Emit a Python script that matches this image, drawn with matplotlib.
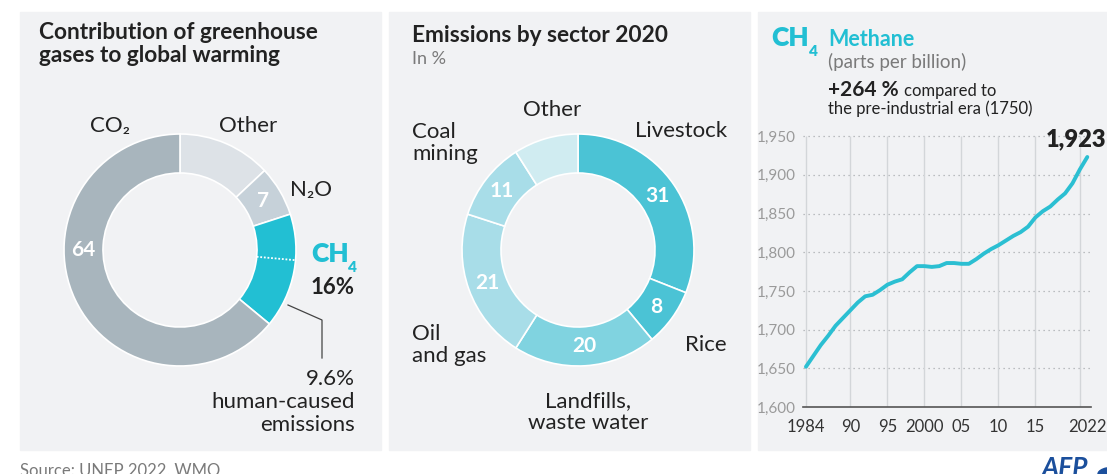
import matplotlib
matplotlib.use('Agg')
import matplotlib.pyplot as plt
from matplotlib.patches import Rectangle, Circle
from matplotlib.lines import Line2D
import numpy as np

plt.rcParams['font.family'] = ['Lato', 'DejaVu Sans']

# --- data ---
gas_names = ['Other', 'N₂O', 'CH₄', 'CO₂']
gas_share = [13, 7, 16, 64]
ch4_human = 9.6

sector_names = ['Livestock', 'Rice', 'Landfills,\nwaste water', 'Oil\nand gas', 'Coal\nmining', 'Other']
sector_share = [31, 8, 20, 21, 11, 9]

years = list(range(1984, 2023))
methane = [1652, 1666, 1680, 1692, 1705, 1715, 1725, 1735, 1743, 1745,
           1751, 1758, 1762, 1765, 1774, 1782, 1782, 1781, 1782, 1786,
           1786, 1785, 1785, 1791, 1798, 1804, 1809, 1815, 1821, 1826,
           1833, 1845, 1853, 1859, 1868, 1876, 1889, 1907, 1923]
ytick_vals = [1600, 1650, 1700, 1750, 1800, 1850, 1900, 1950]
xtick_vals = [1984, 1990, 1995, 2000, 2005, 2010, 2015, 2022]
xtick_labels = ['1984', '90', '95', '2000', '05', '10', '15', '2022']
xgrid_vals = [1984, 1990, 1995, 2000, 2005, 2010, 2015, 2021]

# --- colours ---
BG = '#f1f2f4'
DARK = '#222222'
GREY = '#7a7a7a'
CYAN = '#22bfd3'
gas_colors = ['#dde2e7', '#c6d1d9', CYAN, '#a8b5bd']
sector_colors = ['#4bc3d5', '#4bc3d5', '#80d3e0', '#a8dde8', '#a8dde8', '#d0ecf1']

LBL = 16      # label size
TTL = 16.3    # panel title size

W, H = 1107, 474
fig = plt.figure(figsize=(W / 100, H / 100), dpi=100)
fig.patch.set_facecolor('white')


def fx(x):
    return x / W


def fy(y):
    return 1 - y / H


def txt(x, y, s, **kw):
    kw.setdefault('va', 'center')
    kw.setdefault('color', DARK)
    return fig.text(fx(x), fy(y), s, **kw)


def px_axes(x0, y0, x1, y1):
    return fig.add_axes([fx(x0), fy(y1), (x1 - x0) / W, (y1 - y0) / H])


# panel backgrounds
for x0, x1 in [(20, 381), (389, 750), (758, 1107)]:
    fig.add_artist(Rectangle((fx(x0), fy(450)), (x1 - x0) / W, (450 - 12) / H,
                             transform=fig.transFigure, color=BG, zorder=-5))

R_OUT, R_W = 116, 39
R_MID = R_OUT - R_W / 2


def donut(cx, cy, values, colors):
    ax = px_axes(cx - 130, cy - 130, cx + 130, cy + 130)
    ax.pie(values, colors=colors, startangle=90, counterclock=False, radius=R_OUT,
           wedgeprops=dict(width=R_W, edgecolor='white', linewidth=1.2))
    ax.set_xlim(-130, 130)
    ax.set_ylim(-130, 130)
    ax.set_aspect('equal')
    ax.axis('off')
    return ax


def polar(frac_deg, r):
    a = np.deg2rad(90 - frac_deg)
    return r * np.cos(a), r * np.sin(a)


# ---------- left panel ----------
txt(39, 44, 'Contribution of greenhouse\ngases to global warming', fontsize=TTL,
    fontweight='bold', ha='left', linespacing=1.12)

axl = donut(180, 250, gas_share, gas_colors)
edges = np.cumsum([0] + gas_share) * 3.6
# dotted split of CH4 between natural and human-caused
split = (sum(gas_share[:3]) - ch4_human) * 3.6
x1, y1 = polar(split, R_OUT - R_W)
x2, y2 = polar(split, R_OUT)
axl.plot([x1, x2], [y1, y2], color='white', lw=1.3, ls=(0, (1, 1)))
xa, ya = polar((edges[1] + edges[2]) / 2, R_MID)
axl.text(xa, ya, str(gas_share[1]), color='white', fontsize=15, fontweight='bold',
         ha='center', va='center')
xa, ya = polar(270, R_MID)
axl.text(xa, ya, str(gas_share[3]), color='white', fontsize=15, fontweight='bold',
         ha='center', va='center')

txt(110, 126, gas_names[3], fontsize=LBL, ha='center')
txt(248, 126, gas_names[0], fontsize=LBL, ha='center')
txt(311, 190, gas_names[1], fontsize=LBL, ha='center')
txt(311, 254, 'CH', fontsize=19, fontweight='heavy', color=CYAN, ha='left')
txt(348, 268, '4', fontsize=11, fontweight='heavy', color=CYAN, ha='left')
txt(333, 288, '%d%%' % gas_share[2], fontsize=16, fontweight='bold', ha='center')
fig.add_artist(Line2D([fx(288), fx(322), fx(322)], [fy(305), fy(320), fy(358)],
                      transform=fig.transFigure, color='#444444', lw=0.9))
txt(355, 402, '%.1f%%\nhuman-caused\nemissions' % ch4_human, fontsize=LBL,
    ha='right', multialignment='right', linespacing=1.17)

# ---------- middle panel ----------
txt(412, 35, 'Emissions by sector 2020', fontsize=TTL, fontweight='bold', ha='left')
txt(412, 59, 'In %', fontsize=13, color=GREY, ha='left')

axm = donut(578, 250, sector_share, sector_colors)
sedges = np.cumsum([0] + sector_share) * 3.6
for i, v in enumerate(sector_share[:-1]):
    xa, ya = polar((sedges[i] + sedges[i + 1]) / 2, R_MID)
    axm.text(xa, ya, str(v), color='white', fontsize=15, fontweight='bold',
             ha='center', va='center')

txt(635, 131, sector_names[0], fontsize=LBL, ha='left')
txt(685, 345, sector_names[1], fontsize=LBL, ha='left')
txt(588, 412, sector_names[2], fontsize=LBL, ha='center', linespacing=1.17)
txt(412, 345, sector_names[3], fontsize=LBL, ha='left', linespacing=1.17)
txt(412, 143, sector_names[4], fontsize=LBL, ha='left', linespacing=1.17)
txt(552, 110, sector_names[5], fontsize=LBL, ha='center')

# ---------- right panel ----------
txt(771, 38, 'CH', fontsize=19, fontweight='heavy', color=CYAN, ha='left')
txt(809, 51, '4', fontsize=11, fontweight='heavy', color=CYAN, ha='left')
txt(828, 39, 'Methane', fontsize=15.5, fontweight='bold', color=CYAN, ha='left')
txt(828, 62, '(parts per billion)', fontsize=13.5, color=GREY, ha='left')
txt(828, 90, '+264 %', fontsize=15, fontweight='bold', ha='left')
txt(904, 91, 'compared to', fontsize=12, ha='left')
txt(828, 109, 'the pre-industrial era (1750)', fontsize=12, ha='left')

# line chart, axes box in pixels
PX_PER_50 = 38.7
top_px = 128
axc = px_axes(803, top_px, 1091, 407)
axc.set_facecolor('none')
axc.set_xlim(1983.6, 2022.5)
axc.set_ylim(1600, 1600 + (407 - top_px) * 50 / PX_PER_50)
for v in ytick_vals[1:]:
    axc.axhline(v, color='#a9acaf', lw=0.9, ls=(0, (1, 3)), zorder=1)
axc.vlines(xgrid_vals, 1600, 1950, color='#d3d6d9', lw=1, zorder=1)
axc.plot(years, methane, color='#2bbfd2', lw=2.8, solid_capstyle='round', zorder=3)
for s in ['top', 'right', 'left']:
    axc.spines[s].set_visible(False)
axc.spines['bottom'].set_color('#555555')
axc.spines['bottom'].set_linewidth(1.2)
axc.set_yticks(ytick_vals)
axc.set_yticklabels(['{:,}'.format(v) for v in ytick_vals])
axc.set_xticks(xtick_vals)
axc.set_xticklabels(xtick_labels)
axc.tick_params(axis='y', length=0, pad=5, labelsize=11, labelcolor='#9a9a9a')
axc.tick_params(axis='x', length=0, pad=9, labelsize=12, labelcolor='#333333')
axc.text(years[-1] - 1.5, methane[-1] + 8, '{:,}'.format(methane[-1]), fontsize=17,
         fontweight='heavy', color=DARK, ha='center', va='bottom')

# ---------- footer ----------
txt(20, 463, 'Source: UNEP 2022, WMO', fontsize=12, color=GREY, ha='left', va='top')
txt(1041, 456, 'AFP', fontsize=19, fontweight='bold', fontstyle='italic',
    color='#1b4f9c', ha='left', va='top')
fig.add_artist(Circle((fx(1114), fy(474)), 16 / W, transform=fig.transFigure,
                      color='#1b4f9c'))

fig.savefig('out.png', dpi=100, facecolor='white')
